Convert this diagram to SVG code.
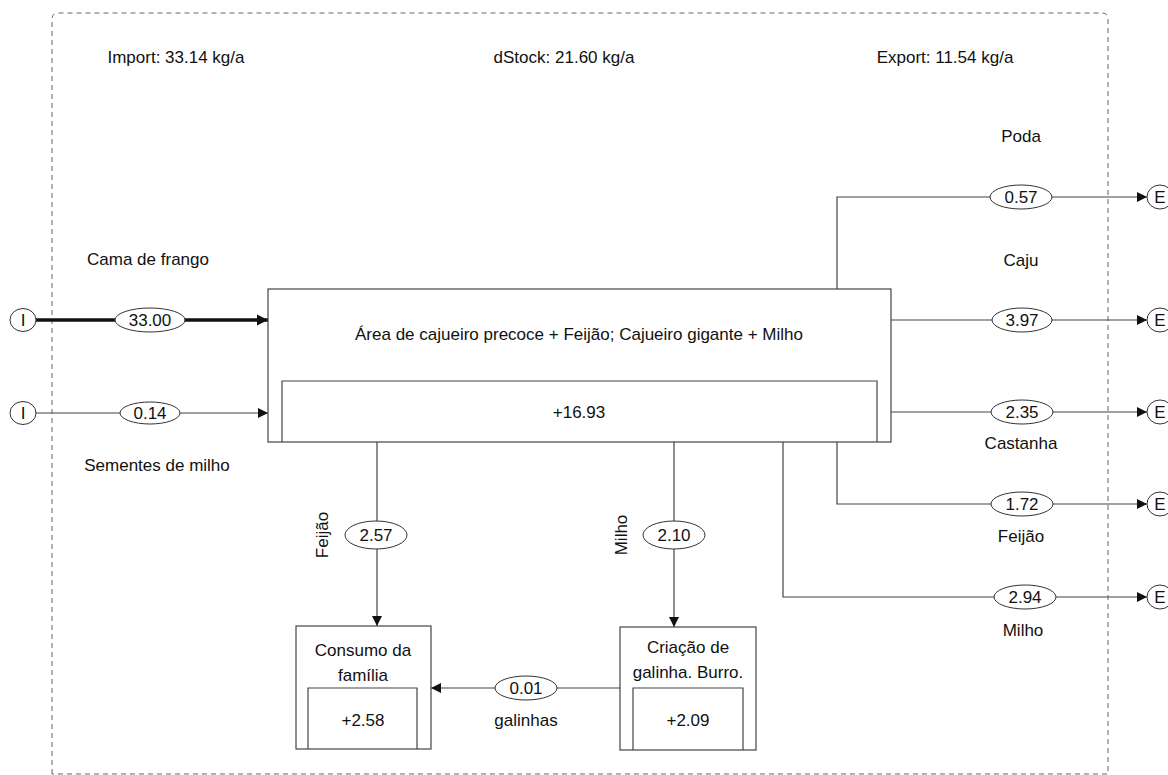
<svg xmlns="http://www.w3.org/2000/svg" width="1168" height="775" viewBox="0 0 1168 775">
<defs>
<marker id="ah" viewBox="0 0 10 10" refX="10" refY="5" markerWidth="11" markerHeight="10" markerUnits="userSpaceOnUse" orient="auto">
<path d="M0,0 L10,5 L0,10 Z" fill="#111"/>
</marker>
<marker id="ahT" viewBox="0 0 10 10" refX="10" refY="5" markerWidth="3.2" markerHeight="3.2" orient="auto">
<path d="M0,0 L10,5 L0,10 Z" fill="#111"/>
</marker>
<style>
text{font-family:"Liberation Sans",Arial,sans-serif;font-size:17px;fill:#111;text-anchor:middle;dominant-baseline:central}
.ln{fill:none;stroke:#444;stroke-width:1.2}
.bx{fill:#fff;stroke:#444;stroke-width:1.2}
.el{fill:#fff;stroke:#333;stroke-width:1}
.bd{fill:none;stroke:#666;stroke-width:1;stroke-dasharray:5 4}
</style>
</defs>
<rect width="1168" height="775" fill="#fff"/>
<path class="bd" d="M52,774 L52,19 Q52,13 58,13 L1102,13 Q1108,13 1108,19 L1108,774 Z"/>
<text x="176" y="57">Import: 33.14 kg/a</text>
<text x="564" y="57">dStock: 21.60 kg/a</text>
<text x="945" y="57">Export: 11.54 kg/a</text>
<g id="connectors">
<line x1="36" y1="320" x2="268" y2="320" stroke="#111" stroke-width="3.5" marker-end="url(#ahT)"/>
<line class="ln" x1="35" y1="413" x2="268" y2="413" marker-end="url(#ah)"/>
<polyline class="ln" points="837,289 837,197 1147,197" marker-end="url(#ah)"/>
<line class="ln" x1="891" y1="320" x2="1147" y2="320" marker-end="url(#ah)"/>
<line class="ln" x1="891" y1="412" x2="1147" y2="412" marker-end="url(#ah)"/>
<polyline class="ln" points="837,442 837,504 1147,504" marker-end="url(#ah)"/>
<polyline class="ln" points="783,442 783,597 1147,597" marker-end="url(#ah)"/>
<line class="ln" x1="377" y1="442" x2="377" y2="626" marker-end="url(#ah)"/>
<line class="ln" x1="674" y1="442" x2="674" y2="627" marker-end="url(#ah)"/>
<line class="ln" x1="620" y1="688" x2="431" y2="688" marker-end="url(#ah)"/>
<ellipse class="el" cx="150" cy="320" rx="35" ry="12"/><text x="150" y="320">33.00</text>
<ellipse class="el" cx="150" cy="413" rx="30" ry="11"/><text x="150" y="413">0.14</text>
<ellipse class="el" cx="1021" cy="197" rx="31" ry="12"/><text x="1021" y="197">0.57</text>
<ellipse class="el" cx="1022" cy="320" rx="30" ry="12"/><text x="1022" y="320">3.97</text>
<ellipse class="el" cx="1022" cy="412" rx="31" ry="12"/><text x="1022" y="412">2.35</text>
<ellipse class="el" cx="1022" cy="504" rx="31" ry="12"/><text x="1022" y="504">1.72</text>
<ellipse class="el" cx="1025" cy="597" rx="31" ry="12"/><text x="1025" y="597">2.94</text>
<ellipse class="el" cx="376" cy="535" rx="31" ry="14"/><text x="376" y="535">2.57</text>
<ellipse class="el" cx="674" cy="535" rx="31" ry="14"/><text x="674" y="535">2.10</text>
<ellipse class="el" cx="526" cy="688" rx="31" ry="12"/><text x="526" y="688">0.01</text>
<text x="148" y="259">Cama de frango</text>
<text x="157" y="465">Sementes de milho</text>
<text x="1021" y="136">Poda</text>
<text x="1021" y="260">Caju</text>
<text x="1021" y="443">Castanha</text>
<text x="1021" y="536">Feijão</text>
<text x="1023" y="630">Milho</text>
<text x="526" y="720">galinhas</text>
<text x="0" y="0" transform="translate(322,535) rotate(-90)">Feijão</text>
<text x="0" y="0" transform="translate(621,535) rotate(-90)">Milho</text>
</g>
<g id="import1"><ellipse class="el" cx="23" cy="320" rx="13" ry="11.5"/><text x="23" y="320">I</text></g>
<g id="import2"><ellipse class="el" cx="23" cy="413" rx="13" ry="11.5"/><text x="23" y="413">I</text></g>
<g id="export1"><ellipse class="el" cx="1160" cy="197" rx="13" ry="12"/><text x="1160" y="197">E</text></g>
<g id="export2"><ellipse class="el" cx="1160" cy="320" rx="13" ry="12"/><text x="1160" y="320">E</text></g>
<g id="export3"><ellipse class="el" cx="1160" cy="412" rx="13" ry="12"/><text x="1160" y="412">E</text></g>
<g id="export4"><ellipse class="el" cx="1160" cy="504" rx="13" ry="12"/><text x="1160" y="504">E</text></g>
<g id="export5"><ellipse class="el" cx="1160" cy="597" rx="13" ry="12"/><text x="1160" y="597">E</text></g>
<g id="main">
<rect class="bx" x="268" y="289" width="623" height="153"/>
<polyline class="ln" points="282,442 282,381 877,381 877,442"/>
<text x="579" y="334">Área de cajueiro precoce + Feijão; Cajueiro gigante + Milho</text>
<text x="579" y="412">+16.93</text>
</g>
<g id="consumo">
<rect class="bx" x="296" y="626" width="135" height="123"/>
<polyline class="ln" points="308,749 308,688 417,688 417,749"/>
<text x="363" y="650">Consumo da</text>
<text x="363" y="675">família</text>
<text x="363" y="720">+2.58</text>
</g>
<g id="criacao">
<rect class="bx" x="620" y="627" width="136" height="123"/>
<polyline class="ln" points="633,750 633,688 743,688 743,750"/>
<text x="688" y="647">Criação de</text>
<text x="688" y="672">galinha. Burro.</text>
<text x="688" y="720">+2.09</text>
</g>
</svg>
